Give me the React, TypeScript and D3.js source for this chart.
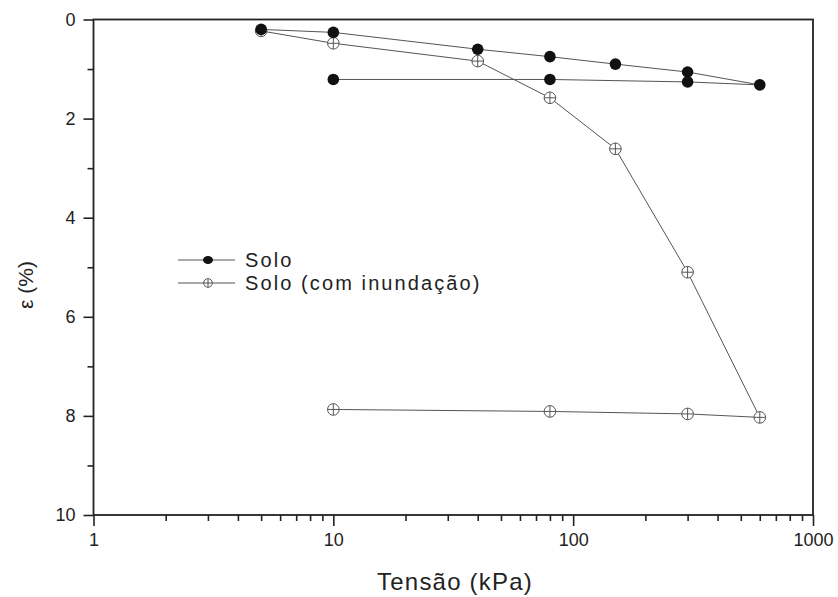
import { useEffect, useRef } from "react"
import * as d3 from "d3"

// pressões (kPa) e deformações (%)
const soloTensao = [5, 10, 40, 80, 150, 300, 600, 300, 80, 10]
const soloEps = [0.2, 0.26, 0.6, 0.75, 0.9, 1.06, 1.32, 1.26, 1.21, 1.21]
const inundTensao = [5, 10, 40, 80, 150, 300, 600, 300, 80, 10]
const inundEps = [0.23, 0.48, 0.84, 1.58, 2.61, 5.1, 8.03, 7.96, 7.91, 7.87]

const xMajor = [1, 10, 100, 1000]
const yMajor = [0, 2, 4, 6, 8, 10]
const yMinor = [1, 3, 5, 7, 9]
const legendLabels = ["Solo", "Solo (com inundação)"]

const FONT = "'Liberation Sans', Arial, sans-serif"

export default function App() {
    const svgRef = useRef<SVGSVGElement>(null)

    useEffect(() => {
        const width = 838, height = 597
        const margin = { top: 19.5, right: 25, bottom: 82, left: 93.5 }
        const wt = width - margin.left - margin.right
        const ht = height - margin.top - margin.bottom

        d3.select(svgRef.current).selectAll("*").remove()
        const root = d3.select(svgRef.current)
            .attr("width", width)
            .attr("height", height)
        root.append("rect").attr("width", width).attr("height", height).attr("fill", "#fff")

        const svg = root.append("g")
            .attr("transform", `translate(${margin.left},${margin.top})`)

        const x = d3.scaleLog().domain([1, 1000]).range([0, wt])
        const y = d3.scaleLinear().domain([0, 10]).range([0, ht])

        // minor ticks
        const xMinor: number[] = []
        for (let d = 1; d < 1000; d *= 10) {
            for (let k = 2; k <= 9; k++) xMinor.push(d * k)
        }

        const styleAxis = (g: any) => {
            g.select(".domain").remove()
            g.selectAll("line").attr("stroke", "#222").attr("stroke-width", 1.6)
            g.selectAll("text")
                .attr("fill", "#222")
                .style("font-family", FONT)
                .style("font-size", "18px")
        }

        svg.append("g")
            .attr("transform", `translate(0,${ht})`)
            .call(d3.axisBottom(x).tickValues(xMinor).tickSize(6).tickFormat(() => ""))
            .call(styleAxis)
        svg.append("g")
            .attr("transform", `translate(0,${ht})`)
            .call(d3.axisBottom(x).tickValues(xMajor).tickSize(11).tickPadding(7).tickFormat(d3.format("d")))
            .call(styleAxis)

        svg.append("g")
            .call(d3.axisLeft(y).tickValues(yMinor).tickSize(6).tickFormat(() => ""))
            .call(styleAxis)
        svg.append("g")
            .call(d3.axisLeft(y).tickValues(yMajor).tickSize(10).tickPadding(8).tickFormat(d3.format("d")))
            .call(styleAxis)

        // frame
        svg.append("rect")
            .attr("width", wt)
            .attr("height", ht)
            .attr("fill", "none")
            .attr("stroke", "#222")
            .attr("stroke-width", 1.8)

        const line = d3.line<[number, number]>()
            .x(d => x(d[0]))
            .y(d => y(d[1]))

        const soloPts: [number, number][] = soloTensao.map((t, i) => [t, soloEps[i]])
        const inundPts: [number, number][] = inundTensao.map((t, i) => [t, inundEps[i]])

        svg.append("path")
            .datum(soloPts)
            .attr("d", line)
            .attr("fill", "none")
            .attr("stroke", "#555")
            .attr("stroke-width", 1)
        svg.append("path")
            .datum(inundPts)
            .attr("d", line)
            .attr("fill", "none")
            .attr("stroke", "#555")
            .attr("stroke-width", 1)

        const crossMarker = (g: any, cx: number, cy: number, r: number) => {
            g.append("circle")
                .attr("cx", cx).attr("cy", cy).attr("r", r)
                .attr("fill", "#fff").attr("stroke", "#555").attr("stroke-width", 1)
            g.append("line")
                .attr("x1", cx - r).attr("x2", cx + r).attr("y1", cy).attr("y2", cy)
                .attr("stroke", "#555").attr("stroke-width", 1)
            g.append("line")
                .attr("x1", cx).attr("x2", cx).attr("y1", cy - r).attr("y2", cy + r)
                .attr("stroke", "#555").attr("stroke-width", 1)
        }

        const inundG = svg.append("g")
        inundPts.forEach(d => crossMarker(inundG, x(d[0]), y(d[1]), 5.8))

        svg.append("g")
            .selectAll("circle")
            .data(soloPts)
            .join("circle")
                .attr("cx", d => x(d[0]))
                .attr("cy", d => y(d[1]))
                .attr("r", 5.8)
                .attr("fill", "#111")

        // legend
        const lg = root.append("g").attr("transform", "translate(178,260)")
        legendLabels.forEach((label, i) => {
            const row = lg.append("g").attr("transform", `translate(0,${i * 23})`)
            row.append("line")
                .attr("x1", 0).attr("x2", 57).attr("y1", 0).attr("y2", 0)
                .attr("stroke", "#555").attr("stroke-width", 1)
            if (i === 0) {
                row.append("ellipse")
                    .attr("cx", 30).attr("cy", 0).attr("rx", 5).attr("ry", 4)
                    .attr("fill", "#111")
            } else {
                crossMarker(row, 30, 0, 4.3)
            }
            row.append("text")
                .attr("x", 67)
                .attr("y", 7)
                .style("font-family", FONT)
                .style("font-size", "20px")
                .style("letter-spacing", "2.1px")
                .attr("fill", "#222")
                .text(label)
        })

        // axis labels
        root.append("text")
            .attr("x", 455)
            .attr("y", 590)
            .attr("text-anchor", "middle")
            .style("font-family", FONT)
            .style("font-size", "24px")
            .style("letter-spacing", "1.2px")
            .attr("fill", "#222")
            .text("Tensão (kPa)")

        root.append("text")
            .attr("transform", "translate(33,285) rotate(-90)")
            .attr("text-anchor", "middle")
            .style("font-family", FONT)
            .style("font-size", "21px")
            .attr("fill", "#222")
            .text("ε (%)")
    }, [])

    return (
        <svg ref={svgRef} style={{ position: "absolute", left: 0, top: 0, display: "block" }}></svg>
    )
}
